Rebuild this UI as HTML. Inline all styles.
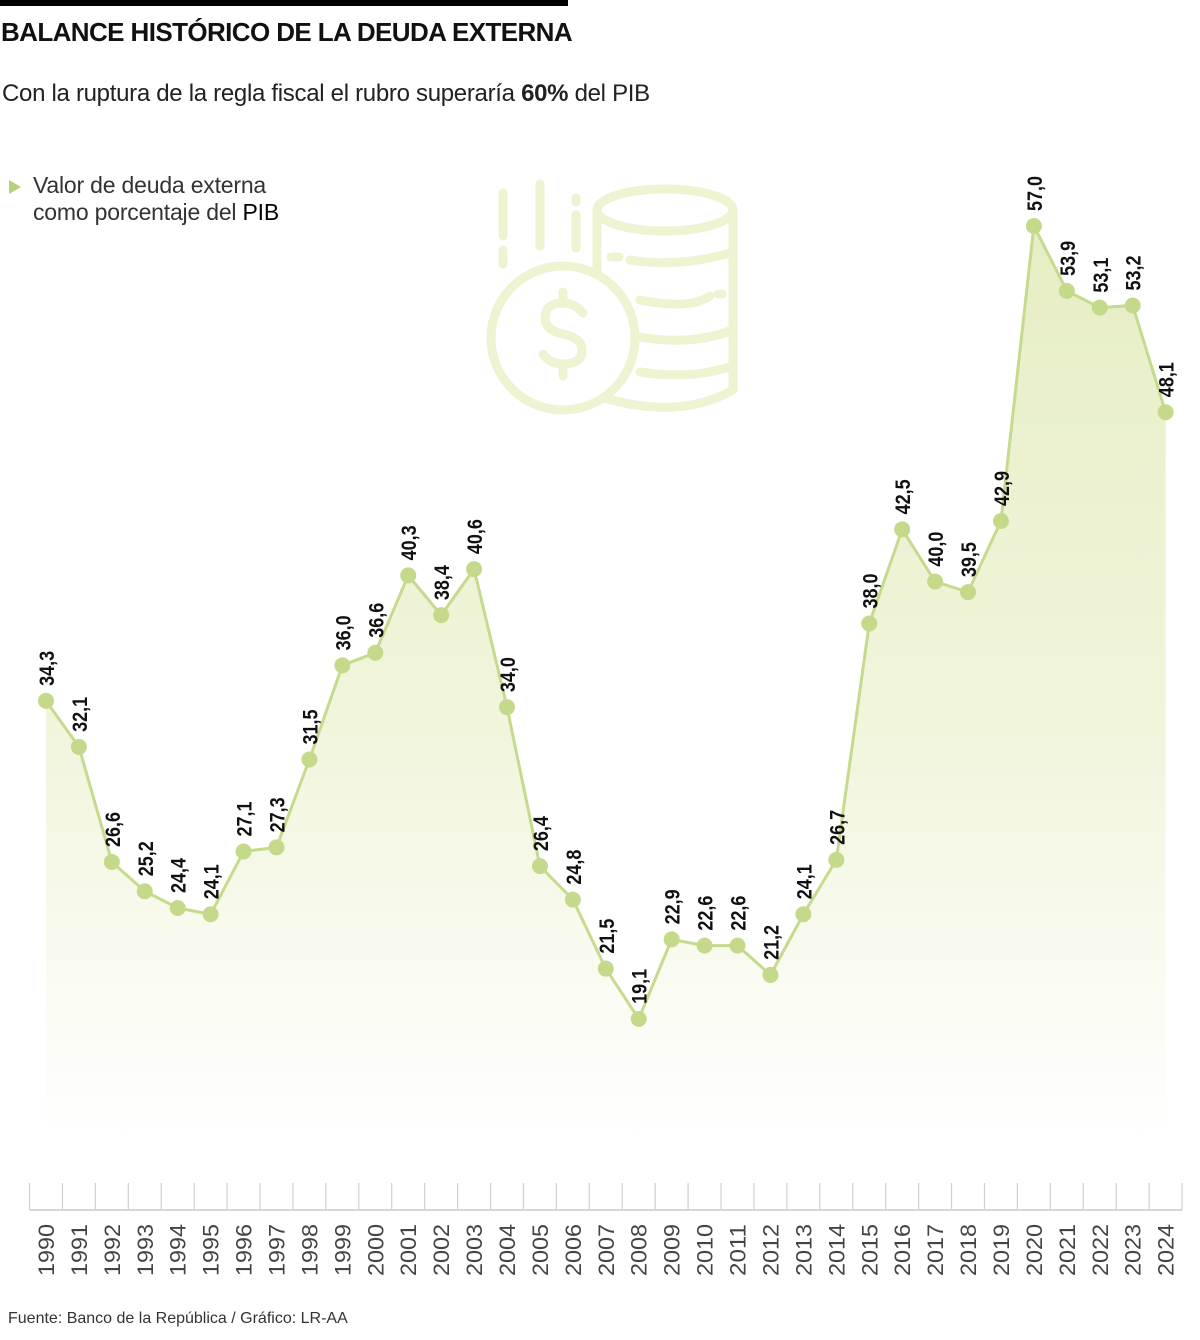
<!DOCTYPE html>
<html><head><meta charset="utf-8">
<style>
html,body{margin:0;padding:0;background:#fff;}
body{width:1200px;height:1340px;position:relative;overflow:hidden;font-family:"Liberation Sans",sans-serif;}
.t{position:absolute;white-space:nowrap;}
</style></head>
<body>
<div style="position:absolute;left:0;top:0;width:568px;height:6px;background:#000"></div>
<div class="t" style="left:1px;top:17px;font-size:26px;font-weight:bold;color:#111;letter-spacing:-0.6px">BALANCE HISTÓRICO DE LA DEUDA EXTERNA</div>
<div class="t" style="left:2px;top:80px;font-size:24px;color:#222;letter-spacing:-0.3px">Con la ruptura de la regla fiscal el rubro superaría <b>60%</b> del PIB</div>
<div style="position:absolute;left:9px;top:180px;width:0;height:0;border-left:12px solid #b5d27a;border-top:7px solid transparent;border-bottom:7px solid transparent"></div>
<div class="t" style="left:33px;top:172px;font-size:23px;line-height:27px;color:#333;letter-spacing:-0.2px">Valor de deuda externa<br>como porcentaje del <span style="color:#000">PIB</span></div>

<svg width="1200" height="1340" style="position:absolute;left:0;top:0" id="chart">
<defs>
<linearGradient id="g" x1="0" y1="0" x2="0" y2="1">
<stop offset="0" stop-color="#e6eec4"/><stop offset="0.55" stop-color="#f1f5dc"/><stop offset="1" stop-color="#ffffff"/>
</linearGradient>
</defs>
<g fill="none" stroke="#eef3d2" stroke-width="9" stroke-linecap="round">
<line x1="503" y1="193" x2="503" y2="236"/><line x1="503" y1="250" x2="503" y2="264"/>
<line x1="540" y1="184" x2="540" y2="246"/>
<line x1="576" y1="198" x2="576" y2="202"/><line x1="576" y1="215" x2="576" y2="248"/>
<ellipse cx="665" cy="210" rx="68" ry="21"/>
<path d="M597 210 V285 M733 210 V390 M611 257 h8 M630 260 Q680 268 733 252 M640 300 Q690 310 710 296 M718 294 h4 M640 337 Q690 346 733 330 M640 372 Q690 380 733 366 M605 398 Q680 420 733 390"/>
<circle cx="563" cy="338" r="72" fill="#fff"/>
<path d="M583 313 Q575 303 563 303 Q545 303 545 318 Q545 330 563 334 Q582 338 582 350 Q582 364 563 364 Q550 364 543 354 M563 292 V302 M563 365 V376"/>
</g>
<g id="area"></g><g id="axis"></g><g id="marks"></g>
</svg>
<div class="t" style="left:8px;top:1310px;font-size:16px;color:#333">Fuente: Banco de la República / Gráfico: LR-AA</div>

<script>
const years = [1990,1991,1992,1993,1994,1995,1996,1997,1998,1999,2000,2001,2002,2003,2004,2005,2006,2007,2008,2009,2010,2011,2012,2013,2014,2015,2016,2017,2018,2019,2020,2021,2022,2023,2024];
const values = [34.3,32.1,26.6,25.2,24.4,24.1,27.1,27.3,31.5,36.0,36.6,40.3,38.4,40.6,34.0,26.4,24.8,21.5,19.1,22.9,22.6,22.6,21.2,24.1,26.7,38.0,42.5,40.0,39.5,42.9,57.0,53.9,53.1,53.2,48.1];
const NS='http://www.w3.org/2000/svg';
const xs = i => 46 + i*32.93;
const ys = v => 226 + (57 - v)*20.92;
function mk(tag, attrs, parent){const e=document.createElementNS(NS,tag);for(const k in attrs)e.setAttribute(k,attrs[k]);parent.appendChild(e);return e;}
const area=document.getElementById('area'), axis=document.getElementById('axis'), marks=document.getElementById('marks');
let d='M'+xs(0)+' 1145';
values.forEach((v,i)=>{d+=' L'+xs(i)+' '+ys(v);});
d+=' L'+xs(values.length-1)+' 1145 Z';
const a=mk('path',{d:d,fill:'url(#g)'},area);


const pts=values.map((v,i)=>xs(i)+','+ys(v)).join(' ');
const ln=mk('polyline',{points:pts,fill:'none',stroke:'#c6da8e','stroke-width':3},marks);


const base=mk('line',{x1:30,y1:1210,x2:1182,y2:1210,stroke:'#c8c8c8','stroke-width':1.5},axis);


for(let i=0;i<=years.length;i++){
  const tx=xs(i)-16.5;
  const t=mk('line',{x1:tx,y1:1183,x2:tx,y2:1210,stroke:'#d0d0d0','stroke-width':1.2},axis);
  
  
}
years.forEach((y,i)=>{
  const x=xs(i)+8;
  const t=mk('text',{x:0,y:0,transform:'translate('+x+',1276) rotate(-90)','font-size':22,fill:'#444','font-family':'"Liberation Sans",sans-serif','textLength':52,'lengthAdjust':'spacingAndGlyphs'},axis);
  t.textContent=y;
  
  
});
values.forEach((v,i)=>{
  const c=mk('circle',{cx:xs(i),cy:ys(v),r:8,fill:'#c5d98b'},marks);
  
  
  const t=mk('text',{x:0,y:0,transform:'translate('+(xs(i)+8)+','+(ys(v)-15)+') rotate(-90)','font-size':21,'font-weight':'bold',fill:'#111','font-family':'"Liberation Sans",sans-serif','textLength':35,'lengthAdjust':'spacingAndGlyphs'},marks);
  t.textContent=v.toFixed(1).replace('.',',');
  
  
});
</script>
</body></html>
